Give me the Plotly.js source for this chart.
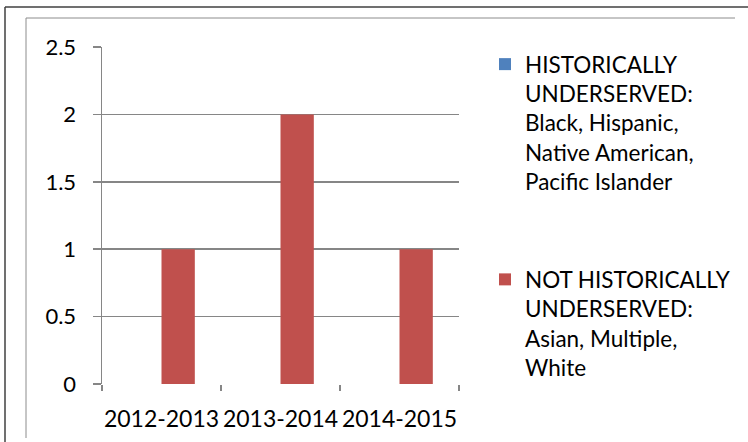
<!DOCTYPE html>
<html>
<head>
<meta charset="utf-8">
<script src="https://cdn.plot.ly/plotly-3.0.1.min.js"></script>
<style>
  html, body { margin: 0; padding: 0; background: #ffffff; }
  #chart { width: 748px; height: 442px; }
</style>
</head>
<body>
<div id="chart"></div>
<script>
// School years on the category axis
const years = ['2012-2013', '2013-2014', '2014-2015'];

// Counts per group
const underservedCounts = [0, 0, 0];
const notUnderservedCounts = [1, 2, 1];

// Legend names
const underservedName = 'HISTORICALLY<br>UNDERSERVED:<br>Black, Hispanic,<br>Native American,<br>Pacific Islander';
const notUnderservedName = 'NOT HISTORICALLY<br>UNDERSERVED:<br>Asian, Multiple,<br>White';

// y-axis ticks
const yTicks = [0, 0.5, 1, 1.5, 2, 2.5];
const yTickText = ['0', '0.5', '1', '1.5', '2', '2.5'];

// Plot-area geometry in pixels
const W = 748, H = 442;
const M = { l: 102, r: 289, t: 47, b: 58 };
const plotW = W - M.l - M.r;
const plotH = H - M.t - M.b;
const px = x => (x - M.l) / plotW;
const py = y => (H - M.b - y) / plotH;

const FONT = 'Lato, "Open Sans", sans-serif';

const traces = [
  {
    type: 'bar',
    name: underservedName,
    x: years,
    y: underservedCounts,
    marker: { color: '#4F81BD' },
    legendgroup: 'a',
    hoverinfo: 'skip'
  },
  {
    type: 'bar',
    name: notUnderservedName,
    x: years,
    y: notUnderservedCounts,
    marker: { color: '#C0504D' },
    legendgroup: 'b',
    hoverinfo: 'skip'
  }
];

// Frame lines around the chart
const frameShapes = [
  { x0: px(5), x1: px(748), y0: py(7), y1: py(7), color: '#404040', width: 1.5 },
  { x0: px(5), x1: px(5), y0: py(7), y1: py(442), color: '#404040', width: 1.5 },
  { x0: px(26), x1: px(735), y0: py(18), y1: py(18), color: '#8c8c8c', width: 1 },
  { x0: px(26), x1: px(26), y0: py(18), y1: py(438), color: '#8c8c8c', width: 1 }
].map(s => ({
  type: 'line', xref: 'paper', yref: 'paper', layer: 'above',
  x0: s.x0, x1: s.x1, y0: s.y0, y1: s.y1,
  line: { color: s.color, width: s.width }
}));

const layout = {
  width: W,
  height: H,
  margin: M,
  paper_bgcolor: '#ffffff',
  plot_bgcolor: '#ffffff',
  font: { family: FONT, size: 22, color: '#000000' },
  barmode: 'group',
  bargap: 0.44,
  bargroupgap: 0,
  showlegend: true,
  legend: {
    x: px(485),
    y: py(43),
    xanchor: 'left',
    yanchor: 'top',
    valign: 'top',
    traceorder: 'grouped',
    tracegroupgap: 66,
    maxheight: 1,
    font: { family: FONT, size: 22.5, color: '#000000' },
    bgcolor: 'rgba(0,0,0,0)',
    borderwidth: 0
  },
  xaxis: {
    type: 'category',
    showline: false,
    showgrid: false,
    zeroline: false,
    ticks: 'outside',
    tickson: 'boundaries',
    ticklen: 6,
    tickcolor: '#868686',
    tickwidth: 1.5,
    tickangle: 0,
    ticklabelstandoff: 19,
    tickfont: { family: FONT, size: 23, color: '#000000' },
    fixedrange: true
  },
  yaxis: {
    range: [0, 2.5],
    tickvals: yTicks,
    ticktext: yTickText,
    showline: true,
    linecolor: '#868686',
    linewidth: 1.5,
    showgrid: true,
    gridcolor: '#868686',
    gridwidth: 1.5,
    zeroline: false,
    ticks: 'outside',
    ticklen: 8,
    tickcolor: '#868686',
    tickwidth: 1.5,
    ticklabelstandoff: 12,
    tickfont: { family: FONT, size: 22, color: '#000000' },
    fixedrange: true
  },
  shapes: frameShapes
};

Plotly.newPlot('chart', traces, layout, { displayModeBar: false, staticPlot: true });
</script>
</body>
</html>
